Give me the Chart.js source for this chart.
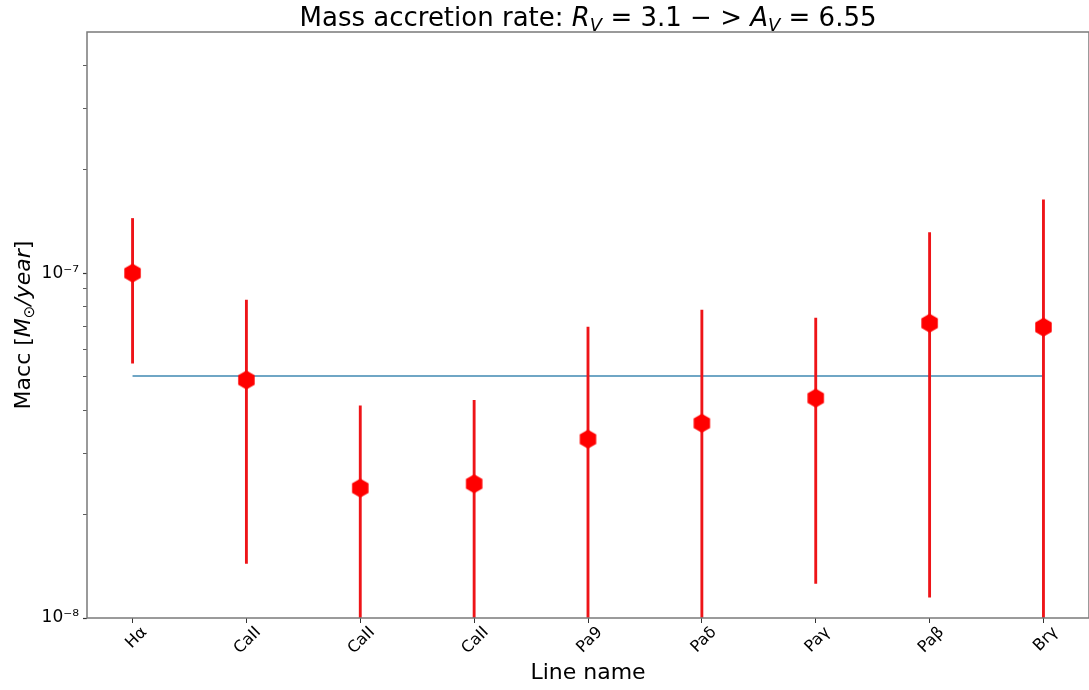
<!DOCTYPE html>
<html>
<head>
<meta charset="utf-8">
<script src="https://cdn.jsdelivr.net/npm/chart.js@4.4.0/dist/chart.umd.min.js"></script>
<style>
html, body { margin: 0; padding: 0; background: #fff; overflow: hidden; }
#wrap { position: relative; width: 1100px; height: 690px; }
</style>
</head>
<body>
<div id="wrap"><canvas id="maccChart" width="1100" height="690"></canvas></div>
<script>
//---------- mass accretion rate per line ----------

var lineNames = ["Hα", "CaII", "CaII", "CaII", "Pa9", "Paδ", "Paγ", "Paβ", "Brγ"];
var maccValues = [1.00e-7, 4.90e-8, 2.38e-8, 2.45e-8, 3.30e-8, 3.67e-8, 4.34e-8, 7.16e-8, 6.97e-8];
var maccHigh   = [1.44e-7, 8.35e-8, 4.12e-8, 4.28e-8, 6.97e-8, 7.81e-8, 7.41e-8, 1.31e-7, 1.63e-7];
// lower ends below 1e-8 run off the axis
var maccLow    = [5.48e-8, 1.44e-8, 1e-9, 1e-9, 1e-9, 1e-9, 1.26e-8, 1.15e-8, 1e-9];
var maccMean   = [5.03e-8];
var yTickValues = [1e-8, 2e-8, 3e-8, 4e-8, 5e-8, 6e-8, 7e-8, 8e-8, 9e-8, 1e-7, 2e-7, 3e-7, 4e-7];
var yTickLabels = { "1e-8": "10\u207B\u2078", "1e-7": "10\u207B\u2077" };

var FONT = "'DejaVu Sans', sans-serif";

function hexMarker(r, color) {
	var s = Math.ceil(r * 2 + 2);
	var c = document.createElement('canvas');
	c.width = s; c.height = s;
	var g = c.getContext('2d');
	g.fillStyle = color;
	g.beginPath();
	for (var k = 0; k < 6; k++) {
		var a = Math.PI / 2 + k * Math.PI / 3;
		var px = s / 2 + r * Math.cos(a), py = s / 2 - r * Math.sin(a);
		if (k) g.lineTo(px, py); else g.moveTo(px, py);
	}
	g.closePath();
	g.fill();
	return c;
}

// draws a row of text pieces (italic / subscript) centred on x
function drawPieces(ctx, pieces, x, y) {
	var total = 0;
	pieces.forEach(function (p) { ctx.font = p.font; total += ctx.measureText(p.t).width; });
	var cx = x - total / 2;
	ctx.textAlign = 'left';
	ctx.textBaseline = 'alphabetic';
	pieces.forEach(function (p) {
		ctx.font = p.font;
		ctx.fillText(p.t, cx, y + (p.dy || 0));
		cx += ctx.measureText(p.t).width;
	});
}

var framePlugin = {
	id: 'frameAndTitles',
	afterDraw: function (chart) {
		var ctx = chart.ctx, a = chart.chartArea;
		ctx.save();
		ctx.strokeStyle = '#7a7a7a';
		ctx.lineWidth = 1.5;
		ctx.strokeRect(a.left, a.top, a.right - a.left, a.bottom - a.top);
		ctx.fillStyle = '#000';

		var t = 26, ts = 18;
		drawPieces(ctx, [
			{ t: "Mass accretion rate: ", font: t + "px " + FONT },
			{ t: "R", font: "italic " + t + "px " + FONT },
			{ t: "V", font: "italic " + ts + "px " + FONT, dy: 5 },
			{ t: " = 3.1 \u2212 > ", font: t + "px " + FONT },
			{ t: "A", font: "italic " + t + "px " + FONT },
			{ t: "V", font: "italic " + ts + "px " + FONT, dy: 5 },
			{ t: " = 6.55", font: t + "px " + FONT }
		], (a.left + a.right) / 2, 26);

		var f = 22, fs = 15;
		ctx.translate(30, (a.top + a.bottom) / 2);
		ctx.rotate(-Math.PI / 2);
		drawPieces(ctx, [
			{ t: "Macc [", font: f + "px " + FONT },
			{ t: "M", font: "italic " + f + "px " + FONT },
			{ t: "\u2299", font: fs + "px " + FONT, dy: 4 },
			{ t: "/year", font: "italic " + f + "px " + FONT },
			{ t: "]", font: f + "px " + FONT }
		], 0, 0);
		ctx.restore();
	}
};

var ctx = document.getElementById("maccChart").getContext('2d');
var myChart = new Chart(ctx, {
	type: 'bar',
	data: {
		datasets: [
			{
				type: 'line',
				data: lineNames.map(function (n, i) { return { x: i, y: maccMean[0] }; }),
				borderColor: '#3f88b2',
				borderWidth: 1.6,
				pointRadius: 0,
				order: 3
			},
			{
				type: 'bar',
				data: lineNames.map(function (n, i) { return { x: i, y: [maccLow[i], maccHigh[i]] }; }),
				backgroundColor: '#ee1418',
				barThickness: 2.2,
				order: 2
			},
			{
				type: 'line',
				data: lineNames.map(function (n, i) { return { x: i, y: maccValues[i] }; }),
				showLine: false,
				pointStyle: hexMarker(9.5, '#ff0000'),
				pointRadius: 10,
				order: 1
			}
		]
	},
	options: {
		responsive: false,
		animation: false,
		layout: { padding: { top: 32, right: 4, left: 0, bottom: 0 } },
		plugins: {
			legend: { display: false },
			tooltip: { enabled: false },
			title: { display: false }
		},
		scales: {
			x: {
				type: 'linear',
				min: -0.4,
				max: 8.4,
				offset: false,
				afterBuildTicks: function (scale) {
					scale.ticks = lineNames.map(function (n, i) { return { value: i }; });
				},
				afterFit: function (scale) { scale.height = 72; },
				border: { display: false },
				grid: { offset: false, drawOnChartArea: false, drawTicks: true, tickLength: 5, tickColor: '#333', tickWidth: 1 },
				ticks: {
					autoSkip: false,
					maxRotation: 45,
					minRotation: 45,
					labelOffset: 12,
					padding: 0,
					color: '#000',
					font: { family: FONT, size: 16 },
					callback: function (value) { return lineNames[value]; }
				},
				title: {
					display: true,
					text: 'Line name',
					color: '#000',
					font: { family: FONT, size: 22 },
					padding: { top: 4, bottom: 4 }
				}
			},
			y: {
				type: 'logarithmic',
				min: 1e-8,
				max: 5e-7,
				afterBuildTicks: function (scale) {
					scale.ticks = yTickValues.map(function (v) { return { value: v }; });
				},
				afterFit: function (scale) { scale.width = 87; },
				border: { display: false },
				grid: {
					drawOnChartArea: false,
					drawTicks: true,
					tickLength: 4,
					tickColor: '#333',
					tickWidth: function (c) { return (c.tick && yTickLabels[c.tick.value.toExponential(0)]) ? 1.2 : 0.8; }
				},
				ticks: {
					autoSkip: false,
					padding: 4,
					color: '#000',
					font: { family: FONT, size: 17 },
					callback: function (value) { return yTickLabels[Number(value).toExponential(0)] || ''; }
				}
			}
		}
	},
	plugins: [framePlugin]
});
</script>
</body>
</html>
